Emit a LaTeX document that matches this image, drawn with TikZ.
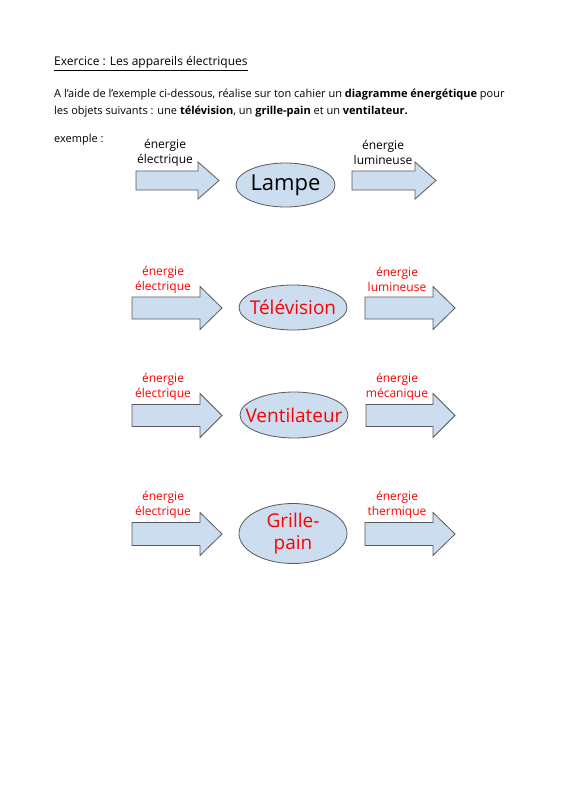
\documentclass[tikz,border=0pt]{standalone}
\usepackage{fontspec}
\setmainfont{Open Sans}
\usetikzlibrary{shapes.geometric}
\definecolor{flowblue}{RGB}{204,221,240}
\definecolor{edgegray}{RGB}{90,90,90}
\definecolor{answerred}{RGB}{255,0,0}
% block arrow: start x, tip x, mid y, half shaft, half head, head length
\newcommand{\blockarrow}[6]{%
  \draw[flow] (#1,#3-#4) -- (#2-#6,#3-#4) -- (#2-#6,#3-#5) -- (#2,#3)
    -- (#2-#6,#3+#5) -- (#2-#6,#3+#4) -- (#1,#3+#4) -- cycle;}

\begin{document}
\begin{tikzpicture}[x=1pt, y=-1pt,
    every node/.style={inner sep=0pt, font=\fontsize{11}{17}\selectfont},
    flow/.style={fill=flowblue, draw=edgegray, line width=0.8pt},
    device/.style={ellipse, fill=flowblue, draw=edgegray, line width=0.8pt, inner sep=0pt},
    devicetext/.style={align=center, font=\fontsize{19}{22}\selectfont},
    energy/.style={align=center, font=\fontsize{12}{15}\selectfont},
    answer/.style={text=answerred}]
  \useasboundingbox (0,0) rectangle (566,800);
  % heading and instructions
  \node[anchor=base west, font=\fontsize{12}{17}\selectfont] (title) at (54,66) {\underline{Exercice : Les appareils électriques}};
  \node[anchor=base west] (line1) at (54,97) {A l’aide de l’exemple ci-dessous, réalise sur ton cahier un \textbf{diagramme énergétique} pour};
  \node[anchor=base west] (line2) at (54,114) {les objets suivants : une \textbf{télévision}, un \textbf{grille-pain} et un \textbf{ventilateur.}};
  \node[anchor=base west] (example) at (54,142) {exemple :};

  % example row : lampe
  \blockarrow{136}{219}{180.5}{9.5}{18.5}{21}
  \blockarrow{352}{436}{180.5}{9.5}{18.5}{21}
  \node[device, minimum width=99pt, minimum height=44pt] (lampe) at (285.5,185) {};
  \node[devicetext, font=\fontsize{22}{24}\selectfont] (lampetext) at (lampe) {Lampe};
  \node[energy] (lampein) at (165,152.5) {énergie\\électrique};
  \node[energy] (lampeout) at (383,152.5) {énergie\\lumineuse};

  % answer row : television
  \blockarrow{132}{222}{308}{11}{21.5}{22}
  \blockarrow{365}{455}{308}{11}{21.5}{22}
  \node[device, minimum width=108pt, minimum height=45pt] (tele) at (293,307.5) {};
  \node[devicetext, answer] (teletext) at (tele) {Télévision};
  \node[energy, answer] (telein) at (163,279.5) {énergie\\électrique};
  \node[energy, answer] (teleout) at (397,279.5) {énergie\\lumineuse};

  % answer row : ventilateur
  \blockarrow{132}{222}{415.5}{11}{22}{22}
  \blockarrow{366}{455}{415.5}{11}{22}{22}
  \node[device, minimum width=108pt, minimum height=46pt] (venti) at (294,415) {};
  \node[devicetext, answer] (ventitext) at (venti) {Ventilateur};
  \node[energy, answer] (ventiin) at (163,386.5) {énergie\\électrique};
  \node[energy, answer] (ventiout) at (397,386.5) {énergie\\mécanique};

  % answer row : grille-pain
  \blockarrow{132}{222}{534}{11.5}{21.5}{22}
  \blockarrow{365}{455}{534}{11.5}{21.5}{22}
  \node[device, minimum width=108pt, minimum height=60pt] (grille) at (293,533.5) {};
  \node[devicetext, answer] (grilletext) at (grille) {Grille-\\pain};
  \node[energy, answer] (grillein) at (163,504.5) {énergie\\électrique};
  \node[energy, answer] (grilleout) at (397,504.5) {énergie\\thermique};
\end{tikzpicture}
\end{document}
